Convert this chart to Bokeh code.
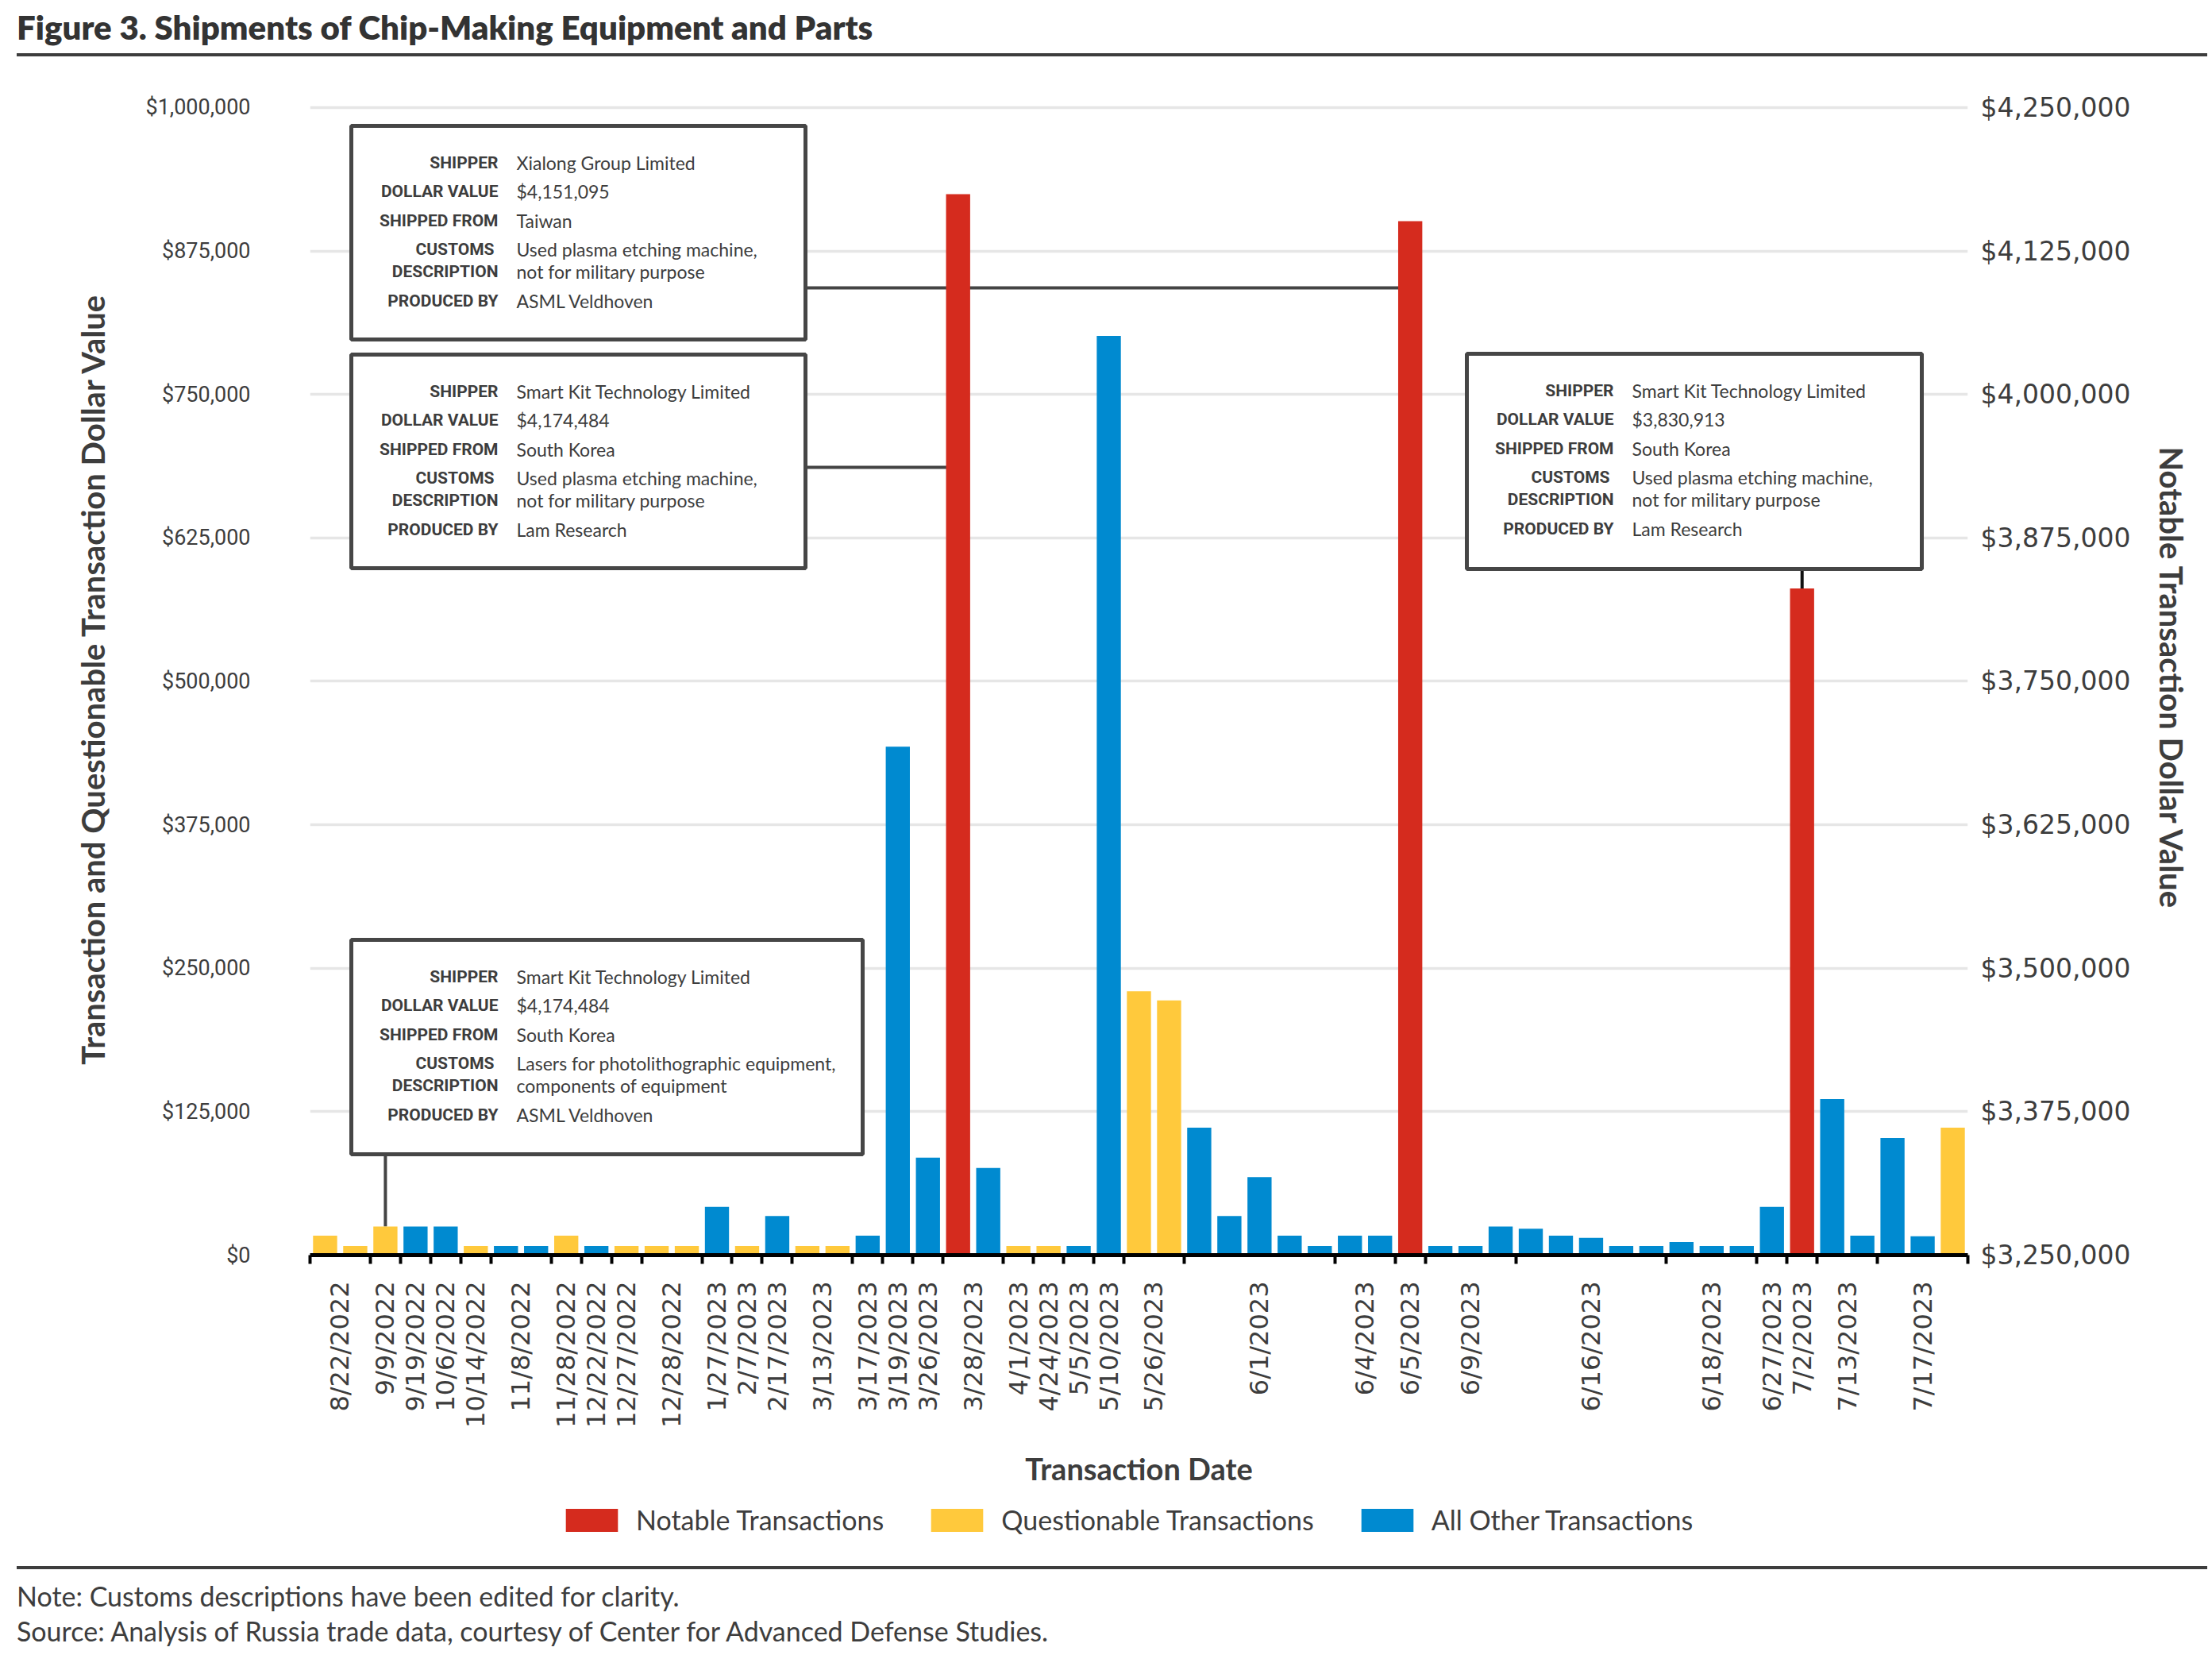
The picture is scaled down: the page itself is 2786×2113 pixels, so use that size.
import math
from bokeh.plotting import figure
from bokeh.models import (Range1d, LinearAxis, FixedTicker, NumeralTickFormatter,
                          BoxAnnotation, Legend, LegendItem, ColumnDataSource, Div)
from bokeh.layouts import column
from bokeh.core.properties import value
from bokeh.embed import file_html
from bokeh.resources import INLINE

# ---------------- data ----------------
bar_dates = [
    "8/22/2022", "8/22/2022", "9/9/2022", "9/19/2022", "10/6/2022", "10/14/2022",
    "11/8/2022", "11/8/2022", "11/28/2022", "12/22/2022", "12/27/2022",
    "12/28/2022", "12/28/2022", "1/27/2023", "2/7/2023", "2/17/2023",
    "3/13/2023", "3/13/2023", "3/17/2023", "3/19/2023", "3/26/2023",
    "3/28/2023", "3/28/2023", "4/1/2023", "4/24/2023", "5/5/2023", "5/10/2023",
    "5/26/2023", "5/26/2023", "6/1/2023", "6/1/2023", "6/1/2023", "6/1/2023", "6/1/2023",
    "6/4/2023", "6/4/2023", "6/5/2023", "6/9/2023", "6/9/2023", "6/9/2023",
    "6/16/2023", "6/16/2023", "6/16/2023", "6/16/2023", "6/16/2023",
    "6/18/2023", "6/18/2023", "6/18/2023", "6/27/2023", "7/2/2023",
    "7/13/2023", "7/13/2023", "7/17/2023", "7/17/2023", "7/17/2023",
]
# N = notable, Q = questionable, O = all other
bar_types = [
    "Q", "Q", "Q", "O", "O", "Q",
    "O", "O", "Q", "O", "Q",
    "Q", "Q", "O", "Q", "O",
    "Q", "Q", "O", "O", "O",
    "N", "O", "Q", "Q", "O", "O",
    "Q", "Q", "O", "O", "O", "O", "O",
    "O", "O", "N", "O", "O", "O",
    "O", "O", "O", "O", "O",
    "O", "O", "O", "O", "N",
    "O", "O", "O", "O", "Q",
]
bar_values = [
    17000, 8000, 25000, 25000, 25000, 8000,
    8000, 8000, 17000, 8000, 8000,
    8000, 8000, 42000, 8000, 34000,
    8000, 8000, 17000, 443000, 85000,
    4174484, 76000, 8000, 8000, 8000, 801000,
    230000, 222000, 111000, 34000, 68000, 17000, 8000,
    17000, 17000, 4151095, 8000, 8000, 25000,
    23000, 17000, 15000, 8000, 8000,
    11500, 8000, 8000, 42000, 3830913,
    136000, 17000, 102000, 16500, 111000,
]
series_names = {"N": "Notable Transactions", "Q": "Questionable Transactions",
                "O": "All Other Transactions"}
left_ticks = [0, 125000, 250000, 375000, 500000, 625000, 750000, 875000, 1000000]
right_ticks = [3250000, 3375000, 3500000, 3625000, 3750000, 3875000, 4000000, 4125000, 4250000]
right_base = 3250000

callouts = [
    {"rows": [("SHIPPER", "Xialong Group Limited"), ("DOLLAR VALUE", "$4,151,095"),
              ("SHIPPED FROM", "Taiwan"), ("CUSTOMS", "Used plasma etching machine,"),
              ("DESCRIPTION", "not for military purpose"), ("PRODUCED BY", "ASML Veldhoven")]},
    {"rows": [("SHIPPER", "Smart Kit Technology Limited"), ("DOLLAR VALUE", "$4,174,484"),
              ("SHIPPED FROM", "South Korea"), ("CUSTOMS", "Used plasma etching machine,"),
              ("DESCRIPTION", "not for military purpose"), ("PRODUCED BY", "Lam Research")]},
    {"rows": [("SHIPPER", "Smart Kit Technology Limited"), ("DOLLAR VALUE", "$3,830,913"),
              ("SHIPPED FROM", "South Korea"), ("CUSTOMS", "Used plasma etching machine,"),
              ("DESCRIPTION", "not for military purpose"), ("PRODUCED BY", "Lam Research")]},
    {"rows": [("SHIPPER", "Smart Kit Technology Limited"), ("DOLLAR VALUE", "$4,174,484"),
              ("SHIPPED FROM", "South Korea"), ("CUSTOMS", "Lasers for photolithographic equipment,"),
              ("DESCRIPTION", "components of equipment"), ("PRODUCED BY", "ASML Veldhoven")]},
]

# ---------------- layout / style ----------------
RED, YELLOW, BLUE = "#d52b1e", "#ffc93c", "#008ad0"
TXT = "#3d3d3d"
W = 2780
TITLE_H = 72
MB_L, MB_T = 390, 56
FRAME_W, FRAME_H = 2088, 1452
MB_R = W - MB_L - FRAME_W
MB_B = 300
LEG_H = 64
Y_END = 1004844
PAGE_FL, PAGE_FB = MB_L, TITLE_H + MB_T + FRAME_H   # page px of frame left / bottom
N = len(bar_values)


def dx(px):
    return 0.5 + (px - PAGE_FL) * N / FRAME_W


def dy(py):
    return (PAGE_FB - py) * Y_END / FRAME_H


# callout boxes in page pixels: left, right, top, bottom
box_px = [(442, 1014, 158, 427), (442, 1014, 446, 715),
          (1847, 2420, 445, 716), (442, 1086, 1183, 1453)]
row_off = [46, 82, 119, 155, 183, 220]
lab_off = [185, 185, 185, 180, 185, 185]
val_off = 208

# groups of consecutive dates
groups = []
for i, d in enumerate(bar_dates, start=1):
    if groups and groups[-1][0] == d:
        groups[-1][2] = i
    else:
        groups.append([d, i, i])
centers = [(g[1] + g[2]) / 2 for g in groups]
bounds = [groups[0][1] - 0.5] + [g[2] + 0.5 for g in groups]

p = figure(frame_width=FRAME_W, frame_height=FRAME_H, output_backend="svg", toolbar_location=None,
           x_range=Range1d(0.5, N + 0.5), y_range=Range1d(0, Y_END),
           min_border_left=MB_L, min_border_right=MB_R, min_border_top=MB_T,
           min_border_bottom=MB_B, margin=(0, 0, 0, 0))
p.extra_y_ranges = {"right": Range1d(right_base, right_base + Y_END)}
p.outline_line_color = None
p.background_fill_color = "white"
p.border_fill_color = "white"
p.xgrid.visible = False
p.ygrid.ticker = FixedTicker(ticks=left_ticks)
p.ygrid.grid_line_color = "#e6e6e6"
p.ygrid.grid_line_width = 3.5

# leader lines (under bars)
idx = list(range(1, N + 1))
b1, b2, b3, b4 = box_px
p.segment(x0=[dx(b1[1])], y0=[dy(362)], x1=[37], y1=[dy(362)], line_color="#444444", line_width=4)
p.segment(x0=[dx(b2[1])], y0=[dy(588)], x1=[22], y1=[dy(588)], line_color="#444444", line_width=4)
p.segment(x0=[3], y0=[bar_values[2]], x1=[3], y1=[dy(b4[3])], line_color="#444444", line_width=4)
p.segment(x0=[50], y0=[bar_values[49]], x1=[50], y1=[dy(b3[3]) + right_base],
          line_color="#111111", line_width=4, y_range_name="right")

for code, color in (("N", RED), ("Q", YELLOW), ("O", BLUE)):
    xs = [i for i, t in zip(idx, bar_types) if t == code]
    vs = [v for v, t in zip(bar_values, bar_types) if t == code]
    if code == "N":
        p.vbar(x=xs, top=vs, bottom=right_base, width=0.8, fill_color=color,
               line_color=None, y_range_name="right")
    else:
        p.vbar(x=xs, top=vs, bottom=0, width=0.8, fill_color=color, line_color=None)

# callout boxes and texts
lab_src = {"x": [], "y": [], "t": []}
val_src = {"x": [], "y": [], "t": []}
for (l, r_, t, b), c in zip(box_px, callouts):
    p.add_layout(BoxAnnotation(left=dx(l), right=dx(r_), top=dy(t), bottom=dy(b),
                               fill_color="white", fill_alpha=1.0,
                               line_color="#464646", line_alpha=1.0, line_width=5))
    for k, (lab, val) in enumerate(c["rows"]):
        lab_src["x"].append(dx(l + lab_off[k]))
        lab_src["y"].append(dy(t + row_off[k]))
        lab_src["t"].append(lab)
        val_src["x"].append(dx(l + val_off))
        val_src["y"].append(dy(t + row_off[k]))
        val_src["t"].append(val)
p.text(x="x", y="y", text="t", source=ColumnDataSource(lab_src),
       text_font=value("Roboto"), text_font_style="bold",
       text_font_size="21px", text_color=TXT, text_align="right",
       text_baseline="middle", level="overlay")
p.text(x="x", y="y", text="t", source=ColumnDataSource(val_src),
       text_font=value("Lato"), text_font_size="23px", text_color=TXT,
       text_align="left", text_baseline="middle", level="overlay")

# x axis
xa = p.xaxis[0]
xa.ticker = FixedTicker(ticks=centers, minor_ticks=bounds)
xa.major_label_overrides = {float(c): g[0] for c, g in zip(centers, groups)}
xa.major_tick_line_color = None
xa.major_tick_in = 0
xa.major_tick_out = 0
xa.minor_tick_line_color = "black"
xa.minor_tick_line_width = 4
xa.minor_tick_in = 0
xa.minor_tick_out = 11
xa.axis_line_color = "black"
xa.axis_line_width = 5
xa.major_label_orientation = math.pi / 2
xa.major_label_standoff = 22
xa.major_label_text_font = "DejaVu Sans"
xa.major_label_text_font_size = "32px"
xa.major_label_text_color = TXT
xa.axis_label = "Transaction Date"
xa.axis_label_standoff = 25
xa.axis_label_text_font = "Lato"
xa.axis_label_text_font_style = "bold"
xa.axis_label_text_font_size = "38px"
xa.axis_label_text_color = TXT

# left axis
ya = p.yaxis[0]
ya.ticker = FixedTicker(ticks=left_ticks)
ya.formatter = NumeralTickFormatter(format="$0,0")
ya.major_tick_line_color = None
ya.minor_tick_line_color = None
ya.axis_line_color = None
ya.major_label_standoff = 69
ya.major_label_text_font = "Roboto"
ya.major_label_text_font_size = "27px"
ya.major_label_text_color = TXT
ya.axis_label = "Transaction and Questionable Transaction Dollar Value"
ya.axis_label_standoff = 39
ya.axis_label_text_font = "Lato"
ya.axis_label_text_font_style = "bold"
ya.axis_label_text_font_size = "40px"
ya.axis_label_text_color = TXT

# right axis
ra = LinearAxis(y_range_name="right", ticker=FixedTicker(ticks=right_ticks),
                formatter=NumeralTickFormatter(format="$0,0"))
ra.major_tick_line_color = None
ra.minor_tick_line_color = None
ra.axis_line_color = None
ra.major_label_standoff = 10
ra.major_label_text_font = "DejaVu Sans"
ra.major_label_text_font_size = "33px"
ra.major_label_text_color = TXT
ra.axis_label = "Notable Transaction Dollar Value"
ra.axis_label_standoff = 25
ra.axis_label_text_font = "Lato"
ra.axis_label_text_font_style = "bold"
ra.axis_label_text_font_size = "40px"
ra.axis_label_text_color = TXT
p.add_layout(ra, "right")

# legend in its own strip below the chart (zero-height stand-in glyphs feed the swatches);
# the column aligns this strip's frame with the chart frame (page x 390..2478)
lp = figure(width=W, height=LEG_H, output_backend="svg", toolbar_location=None,
            x_range=Range1d(0, 1), y_range=Range1d(0, 1),
            x_axis_location=None, y_axis_location=None,
            min_border_left=0, min_border_right=0, min_border_top=0, min_border_bottom=0,
            margin=(0, 0, 0, 0))
lp.outline_line_color = None
lp.xgrid.visible = False
lp.ygrid.visible = False
leg_items = []
for code, color in (("N", RED), ("Q", YELLOW), ("O", BLUE)):
    rr = lp.vbar(x=[-5], top=[0], bottom=0, width=0.8, fill_color=color, line_color=None)
    leg_items.append(LegendItem(label=series_names[code], renderers=[rr]))
legend = Legend(items=leg_items, orientation="horizontal", location=(314, 10),
                glyph_width=82, glyph_height=36, label_standoff=15, spacing=51,
                padding=4, margin=0, border_line_color=None, background_fill_alpha=0,
                label_text_font="Lato", label_text_font_size="34px", label_text_color=TXT,
                label_height=36)
lp.add_layout(legend)

title = Div(text=('<div style="padding-left:21px;">'
                  '<div style="box-sizing:border-box;width:2759px;height:71px;padding-top:11px;'
                  'border-bottom:4px solid #3d3d3d;font-family:Lato;font-weight:800;'
                  'font-size:42px;line-height:46px;color:#333333;white-space:nowrap;">'
                  'Figure 3. Shipments of Chip-Making Equipment and Parts</div></div>'),
            width=W, height=TITLE_H, margin=(0, 0, 0, 0))
footer = Div(text=('<div style="padding-left:21px;padding-top:28px;"><div style="width:2759px;'
                   'border-top:4px solid #3d3d3d;padding-top:12px;font-family:Lato;'
                   'font-size:34px;line-height:44px;color:#3d3d3d;white-space:nowrap;">'
                   'Note: Customs descriptions have been edited for clarity.<br>'
                   'Source: Analysis of Russia trade data, courtesy of Center for Advanced Defense Studies.'
                   '</div></div>'),
             width=W, height=136, margin=(0, 0, 0, 0))

layout = column(title, p, lp, footer, spacing=0)
open("out.html", "w").write(file_html(layout, INLINE))
